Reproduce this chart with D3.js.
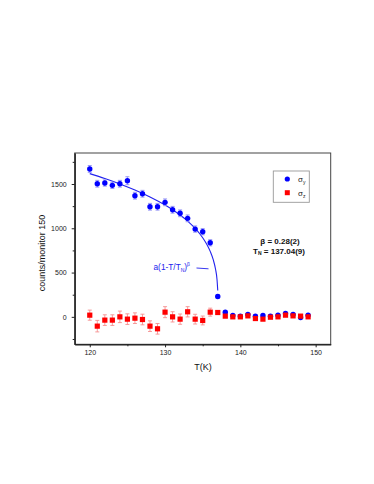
<!DOCTYPE html>
<html><head><meta charset="utf-8">
<script src="https://cdn.jsdelivr.net/npm/d3@7"></script>
<style>
html,body{margin:0;padding:0;background:#fff;}
svg{display:block;font-family:"Liberation Sans",Arial,sans-serif;}
</style></head>
<body><svg id="c" width="374" height="484"></svg>
<script>
// Data
const temps = [120,121,122,123,124,125,126,127,128,129,130,131,132,133,134,135,136,137,138,139,140,141,142,143,144,145,146,147,148,149];
const sigmaY = [1670,1503,1511,1485,1503,1537,1368,1390,1243,1243,1293,1209,1169,1112,991,961,836,230,53,15,8,27,8,15,8,19,38,27,-7,19];
const sigmaYErr = [38,38,35,35,38,45,38,38,38,38,38,38,38,38,35,35,35,20,12,12,12,12,12,12,12,12,12,12,12,12];
const sigmaZ = [19,-105,-37,-37,0,-26,-15,-30,-105,-135,53,0,-26,57,-26,-41,53,49,8,0,0,11,-19,-26,-4,0,19,11,8,0];
const sigmaZErr = [57,65,60,60,65,60,60,60,60,60,62,58,58,58,55,50,45,15,12,12,12,12,12,12,12,12,12,12,12,12];
// fit curve a(1-T/TN)^beta, beta=0.28, TN=137.04
const fitT = [120,122,124,126,128,130,131,132,133,134,135,135.5,136,136.4,136.7,136.9,137.0];
const fitV = [1617,1562,1501,1432,1354,1263,1210,1150,1081,998,893,825,739,645,540,422,297];
const xTicks = [120,130,140,150];
const xMinor = [125,135,145];
const yTicks = [0,500,1000,1500];
const yMinor = [-250,250,750,1250,1750];

const svg = d3.select("#c");
const L=74.7,R=330.7,T=153,B=344.3;
const x = d3.scaleLinear().domain([118,152]).range([L,R]);
const y = d3.scaleLinear().domain([-310,1850]).range([B,T]);

// frame
svg.append("rect").attr("x",L).attr("y",T).attr("width",R-L).attr("height",B-T)
  .attr("fill","none").attr("stroke","#444").attr("stroke-width",1);

// axes
const fmt = d3.format("d");
const xa = svg.append("g").attr("transform",`translate(0,${B})`)
  .call(d3.axisBottom(x).tickValues(xTicks).tickFormat(fmt).tickSize(3).tickSizeOuter(0).tickPadding(3));
const xm = svg.append("g").attr("transform",`translate(0,${B})`)
  .call(d3.axisBottom(x).tickValues(xMinor).tickSize(2).tickSizeOuter(0).tickFormat(""));
const ya = svg.append("g").attr("transform",`translate(${L},0)`)
  .call(d3.axisLeft(y).tickValues(yTicks).tickFormat(fmt).tickSize(3).tickSizeOuter(0).tickPadding(5));
const ym = svg.append("g").attr("transform",`translate(${L},0)`)
  .call(d3.axisLeft(y).tickValues(yMinor.filter(v=>v>-310)).tickSize(2).tickSizeOuter(0).tickFormat(""));
[xa,xm,ya,ym].forEach(g=>{
  g.select(".domain").attr("stroke","#222");
  g.selectAll(".tick line").attr("stroke","#222");
  g.selectAll("text").attr("font-size",7).attr("fill","#222").attr("font-family","Liberation Sans, Arial, sans-serif");
});

// axis labels
svg.append("text").attr("transform","translate(45,253) rotate(-90)").attr("text-anchor","middle")
  .attr("font-size",9).attr("fill","#111").text("counts/monitor 150");
svg.append("text").attr("x",203).attr("y",370).attr("text-anchor","middle")
  .attr("font-size",9).attr("fill","#111").text("T(K)");

// fit line
const line = d3.line().x(d=>x(d[0])).y(d=>y(d[1])).curve(d3.curveMonotoneX);
svg.append("path").datum(fitT.map((t,i)=>[t,fitV[i]])).attr("d",line)
  .attr("fill","none").attr("stroke","#2222ee").attr("stroke-width",1.1);

// error bars helper
function errBars(vals, errs, color){
  const g = svg.append("g").attr("stroke",color).attr("stroke-width",0.9);
  temps.forEach((t,i)=>{
    const cx=x(t), y1=y(vals[i]+errs[i]), y2=y(vals[i]-errs[i]);
    g.append("line").attr("x1",cx).attr("x2",cx).attr("y1",y1).attr("y2",y2);
    g.append("line").attr("x1",cx-2).attr("x2",cx+2).attr("y1",y1).attr("y2",y1);
    g.append("line").attr("x1",cx-2).attr("x2",cx+2).attr("y1",y2).attr("y2",y2);
  });
}
errBars(sigmaY, sigmaYErr, "#8a8af5");
svg.append("g").selectAll("circle").data(temps).join("circle")
  .attr("cx",d=>x(d)).attr("cy",(d,i)=>y(sigmaY[i])).attr("r",2.7).attr("fill","#0000ff");
errBars(sigmaZ, sigmaZErr, "#f59090");
svg.append("g").selectAll("rect").data(temps).join("rect")
  .attr("x",d=>x(d)-2.6).attr("y",(d,i)=>y(sigmaZ[i])-2.6).attr("width",5.2).attr("height",5.2).attr("fill","#ff0000");

// legend
svg.append("rect").attr("x",273.3).attr("y",171).attr("width",36).attr("height",31.3)
  .attr("fill","#fff").attr("stroke","#999").attr("stroke-width",0.9);
svg.append("circle").attr("cx",287.3).attr("cy",179).attr("r",2.6).attr("fill","#0000ff");
svg.append("rect").attr("x",284.8).attr("y",190.2).attr("width",5).attr("height",5).attr("fill","#ff0000");
const lg1 = svg.append("text").attr("x",298).attr("y",182).attr("font-size",8).attr("fill","#222");
lg1.append("tspan").text("σ");
lg1.append("tspan").attr("dy",2).attr("font-size",5).text("y");
const lg2 = svg.append("text").attr("x",298).attr("y",196).attr("font-size",8).attr("fill","#222");
lg2.append("tspan").text("σ");
lg2.append("tspan").attr("dy",2).attr("font-size",5).text("z");

// annotations
svg.append("text").attr("x",280).attr("y",243.5).attr("text-anchor","middle")
  .attr("font-size",8).attr("font-weight","bold").attr("fill","#111").text("β = 0.28(2)");
const tn = svg.append("text").attr("x",279).attr("y",253.5).attr("text-anchor","middle")
  .attr("font-size",8).attr("font-weight","bold").attr("fill","#111");
tn.append("tspan").text("T");
tn.append("tspan").attr("dy",1.5).attr("font-size",5).text("N");
tn.append("tspan").attr("dy",-1.5).text(" = 137.04(9)");

const fa = svg.append("text").attr("x",153.5).attr("y",270).attr("font-size",8.3).attr("fill","#2222ee");
fa.append("tspan").text("a(1-T/T");
fa.append("tspan").attr("dy",2).attr("font-size",5).text("N");
fa.append("tspan").attr("dy",-2).text(")");
fa.append("tspan").attr("dy",-4).attr("font-size",5).text("β");
svg.append("line").attr("x1",196.5).attr("x2",208.5).attr("y1",268).attr("y2",268.8)
  .attr("stroke","#2222ee").attr("stroke-width",0.9);
</script></body></html>
